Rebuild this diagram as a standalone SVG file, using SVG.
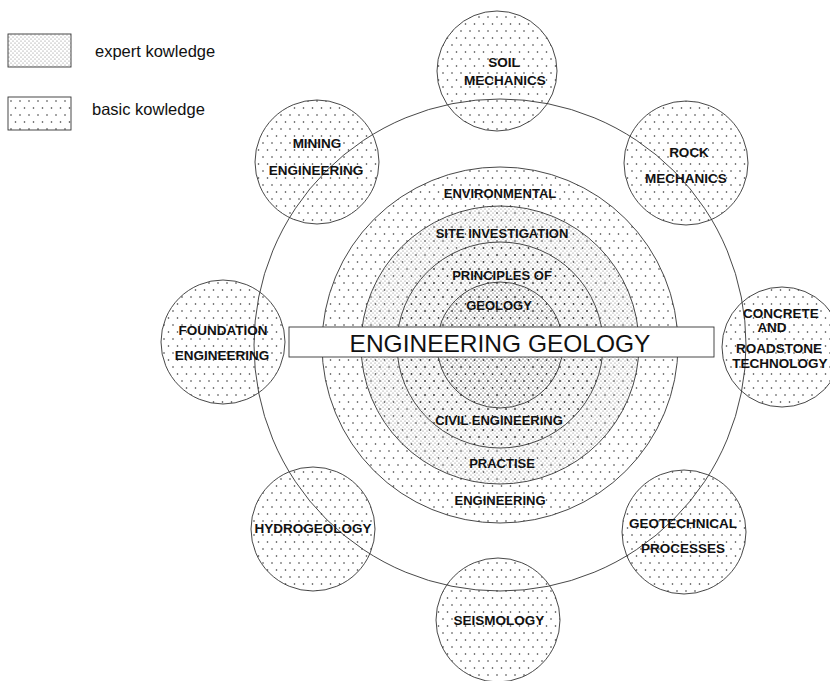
<svg xmlns="http://www.w3.org/2000/svg" width="830" height="681" viewBox="0 0 830 681">
<style>
.bg{fill:#fff}
.sat{fill:url(#basic);stroke:#333;stroke-width:0.9}
.ringB{fill:url(#basic);stroke:#333;stroke-width:0.9}
.ringE{fill:url(#expert);stroke:#333;stroke-width:0.9}
.big{fill:none;stroke:#333;stroke-width:0.9}
.lbl{font-family:"Liberation Sans",Arial,sans-serif;font-weight:bold;font-size:13.5px;fill:#111;text-anchor:middle}
.rl{font-family:"Liberation Sans",Arial,sans-serif;font-weight:bold;font-size:13px;fill:#111;text-anchor:middle}
.leg{font-family:"Liberation Sans",Arial,sans-serif;font-size:16.5px;fill:#111}
.title{font-family:"Liberation Sans",Arial,sans-serif;font-size:24.5px;fill:#111;text-anchor:middle}
</style>
<defs>
<pattern id="basic" patternUnits="userSpaceOnUse" width="9" height="14">
<circle cx="2" cy="3" r="0.8" fill="#333"/>
<circle cx="6.5" cy="10" r="0.8" fill="#333"/>
</pattern>
<pattern id="expert" patternUnits="userSpaceOnUse" width="4" height="4">
<circle cx="1" cy="1" r="0.55" fill="#777"/>
<circle cx="3" cy="3" r="0.55" fill="#777"/>
</pattern>
</defs>
<rect class="bg" width="830" height="681"/>

<g id="legend">
<rect x="8" y="34" width="63" height="33" fill="url(#expert)" stroke="#333" stroke-width="0.9"/>
<text class="leg" x="95" y="57">expert kowledge</text>
<rect x="8" y="97" width="63" height="33" fill="url(#basic)" stroke="#333" stroke-width="0.9"/>
<text class="leg" x="92" y="115">basic kowledge</text>
</g>

<g id="core">
<circle class="ringB" cx="500" cy="345" r="178"/>
<circle class="ringE" cx="500" cy="345" r="139"/>
<circle class="ringB" cx="500" cy="345" r="103"/>
<circle class="ringE" cx="500" cy="345" r="63"/>
<text class="rl" x="500" y="198">ENVIRONMENTAL</text>
<text class="rl" x="502" y="238">SITE INVESTIGATION</text>
<text class="rl" x="502" y="280">PRINCIPLES OF</text>
<text class="rl" x="499" y="310">GEOLOGY</text>
<text class="rl" x="499" y="425">CIVIL ENGINEERING</text>
<text class="rl" x="502" y="468">PRACTISE</text>
<text class="rl" x="500" y="505">ENGINEERING</text>
</g>

<g id="connectors">
<circle class="big" cx="500" cy="345" r="246"/>
</g>

<g id="title">
<rect x="289" y="327" width="425" height="30" fill="#fff" stroke="#333" stroke-width="0.9"/>
<text class="title" x="500" y="352">ENGINEERING GEOLOGY</text>
</g>

<g id="soil">
<circle class="sat" cx="497" cy="71" r="60"/>
<text class="lbl" x="504" y="67">SOIL</text>
<text class="lbl" x="505" y="85">MECHANICS</text>
</g>
<g id="rock">
<circle class="sat" cx="686" cy="163" r="62"/>
<text class="lbl" x="689" y="157">ROCK</text>
<text class="lbl" x="686" y="183">MECHANICS</text>
</g>
<g id="concrete">
<circle class="sat" cx="782" cy="347" r="60"/>
<text class="lbl" x="781" y="318">CONCRETE</text>
<text class="lbl" x="772" y="332">AND</text>
<text class="lbl" x="779" y="353">ROADSTONE</text>
<text class="lbl" x="780" y="368">TECHNOLOGY</text>
</g>
<g id="geotechnical">
<circle class="sat" cx="684" cy="532" r="62"/>
<text class="lbl" x="683" y="528">GEOTECHNICAL</text>
<text class="lbl" x="683" y="553">PROCESSES</text>
</g>
<g id="seismology">
<circle class="sat" cx="498" cy="620" r="62"/>
<text class="lbl" x="499" y="625">SEISMOLOGY</text>
</g>
<g id="hydrogeology">
<circle class="sat" cx="313" cy="529" r="62"/>
<text class="lbl" x="313" y="533">HYDROGEOLOGY</text>
</g>
<g id="foundation">
<circle class="sat" cx="223" cy="342" r="62"/>
<text class="lbl" x="223" y="335">FOUNDATION</text>
<text class="lbl" x="222" y="360">ENGINEERING</text>
</g>
<g id="mining">
<circle class="sat" cx="317" cy="162" r="62"/>
<text class="lbl" x="317" y="148">MINING</text>
<text class="lbl" x="316" y="175">ENGINEERING</text>
</g>
</svg>
